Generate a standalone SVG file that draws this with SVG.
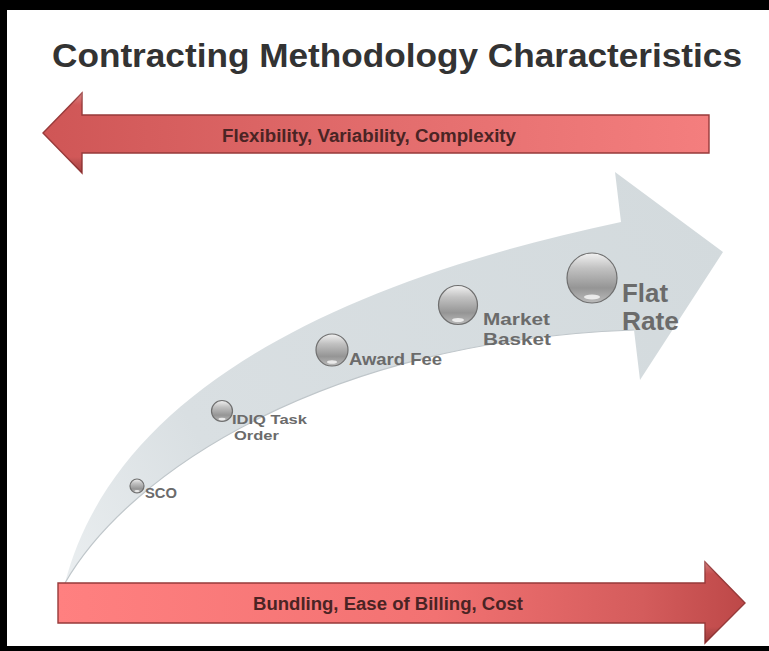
<svg xmlns="http://www.w3.org/2000/svg" width="769" height="651" viewBox="0 0 769 651">
  <defs>
    <linearGradient id="redTop" x1="43" y1="0" x2="709" y2="0" gradientUnits="userSpaceOnUse">
      <stop offset="0" stop-color="#cf5656"/>
      <stop offset="0.5" stop-color="#e26c6c"/>
      <stop offset="1" stop-color="#f47e7e"/>
    </linearGradient>
    <linearGradient id="redBottom" x1="58" y1="0" x2="745" y2="0" gradientUnits="userSpaceOnUse">
      <stop offset="0" stop-color="#ff8080"/>
      <stop offset="0.55" stop-color="#f27272"/>
      <stop offset="0.85" stop-color="#d45c5c"/>
      <stop offset="1" stop-color="#bd4848"/>
    </linearGradient>
    <linearGradient id="bevel" x1="0" y1="0" x2="0" y2="1">
      <stop offset="0" stop-color="#ffffff" stop-opacity="0.25"/>
      <stop offset="0.15" stop-color="#ffffff" stop-opacity="0"/>
      <stop offset="0.8" stop-color="#000000" stop-opacity="0"/>
      <stop offset="1" stop-color="#5a1010" stop-opacity="0.3"/>
    </linearGradient>
    <linearGradient id="band" x1="65" y1="583" x2="723" y2="230" gradientUnits="userSpaceOnUse">
      <stop offset="0" stop-color="#eaeef0"/>
      <stop offset="0.25" stop-color="#d9dfe2"/>
      <stop offset="1" stop-color="#d3dadd"/>
    </linearGradient>
    <linearGradient id="ball" x1="0" y1="0" x2="0" y2="1">
      <stop offset="0" stop-color="#f2f2f2"/>
      <stop offset="0.3" stop-color="#c2c2c2"/>
      <stop offset="0.7" stop-color="#959595"/>
      <stop offset="1" stop-color="#bbbbbb"/>
    </linearGradient>
  </defs>
  <style>
    .title { font-family: "Liberation Sans", Arial, sans-serif; font-weight: bold; fill: #333333; }
    .band-label { font-family: "Liberation Sans", Arial, sans-serif; font-weight: bold; fill: #4a2424; }
    .label { font-family: "Liberation Sans", Arial, sans-serif; font-weight: bold; fill: #6b6b6b; }
    .ball { fill: url(#ball); stroke: #6f6f6f; stroke-width: 1.2; }
    .shine { fill: #ffffff; opacity: 0.75; }
    .arrow-edge { stroke: #973a3a; stroke-width: 1.4; stroke-linejoin: miter; }
  </style>

  <!-- page background and frame -->
  <rect x="0" y="0" width="769" height="651" fill="#ffffff"/>
  <rect x="0" y="0" width="769" height="10" fill="#000000"/>
  <rect x="0" y="0" width="7" height="651" fill="#000000"/>
  <rect x="0" y="646" width="769" height="5" fill="#000000"/>

  <text class="title" x="52" y="67" font-size="34" textLength="690" lengthAdjust="spacingAndGlyphs">Contracting Methodology Characteristics</text>

  <!-- left-pointing arrow -->
  <g id="arrow-flexibility">
    <path class="arrow-edge" d="M43,133 L82,93 L82,115 L709,115 L709,153 L82,153 L82,173 Z" fill="url(#redTop)"/>
    <path d="M43,133 L82,93 L82,115 L709,115 L709,153 L82,153 L82,173 Z" fill="url(#bevel)"/>
    <text class="band-label" x="222" y="142" font-size="17.5" textLength="294" lengthAdjust="spacingAndGlyphs">Flexibility, Variability, Complexity</text>
  </g>

  <!-- curved growth arrow -->
  <g id="growth-arrow">
    <path d="M65,583 C110,410 300,290 621,222 L615,172 L723,252 L640,380 L634,330 C330,340 130,470 65,583 Z" fill="url(#band)"/>
    <path d="M634,330 C330,340 130,470 65,583" fill="none" stroke="#bfc6ca" stroke-width="1.2"/>
  </g>

  <!-- right-pointing arrow -->
  <g id="arrow-bundling">
    <path class="arrow-edge" d="M58,583 L705,583 L705,562 L745,603 L705,643 L705,623 L58,623 Z" fill="url(#redBottom)"/>
    <path d="M58,583 L705,583 L705,562 L745,603 L705,643 L705,623 L58,623 Z" fill="url(#bevel)"/>
    <text class="band-label" x="253" y="610" font-size="17.5" textLength="270" lengthAdjust="spacingAndGlyphs">Bundling, Ease of Billing, Cost</text>
  </g>

  <!-- contract types along the curve -->
  <g id="node-sco">
    <circle class="ball" cx="137" cy="486" r="7"/>
    <ellipse class="shine" cx="137" cy="491" rx="2.5" ry="1"/>
    <text class="label" x="145" y="498" font-size="14" textLength="32" lengthAdjust="spacingAndGlyphs">SCO</text>
  </g>
  <g id="node-idiq">
    <circle class="ball" cx="222" cy="411" r="10.5"/>
    <ellipse class="shine" cx="222" cy="419" rx="3.5" ry="1.3"/>
    <text class="label" x="232" y="424" font-size="13" textLength="75" lengthAdjust="spacingAndGlyphs">IDIQ Task</text>
    <text class="label" x="234" y="440" font-size="13" textLength="45" lengthAdjust="spacingAndGlyphs">Order</text>
  </g>
  <g id="node-award-fee">
    <circle class="ball" cx="332" cy="350" r="16"/>
    <ellipse class="shine" cx="332" cy="362" rx="5" ry="1.8"/>
    <text class="label" x="349" y="365" font-size="16.5" textLength="93" lengthAdjust="spacingAndGlyphs">Award Fee</text>
  </g>
  <g id="node-market-basket">
    <circle class="ball" cx="458" cy="305" r="19.5"/>
    <ellipse class="shine" cx="458" cy="320" rx="6" ry="2"/>
    <text class="label" x="483" y="325" font-size="17" textLength="67" lengthAdjust="spacingAndGlyphs">Market</text>
    <text class="label" x="483" y="345" font-size="17" textLength="68" lengthAdjust="spacingAndGlyphs">Basket</text>
  </g>
  <g id="node-flat-rate">
    <circle class="ball" cx="592" cy="278" r="25"/>
    <ellipse class="shine" cx="592" cy="297" rx="8" ry="2.5"/>
    <text class="label" x="622" y="302" font-size="25" textLength="46" lengthAdjust="spacingAndGlyphs">Flat</text>
    <text class="label" x="622" y="330" font-size="25" textLength="57" lengthAdjust="spacingAndGlyphs">Rate</text>
  </g>
</svg>
